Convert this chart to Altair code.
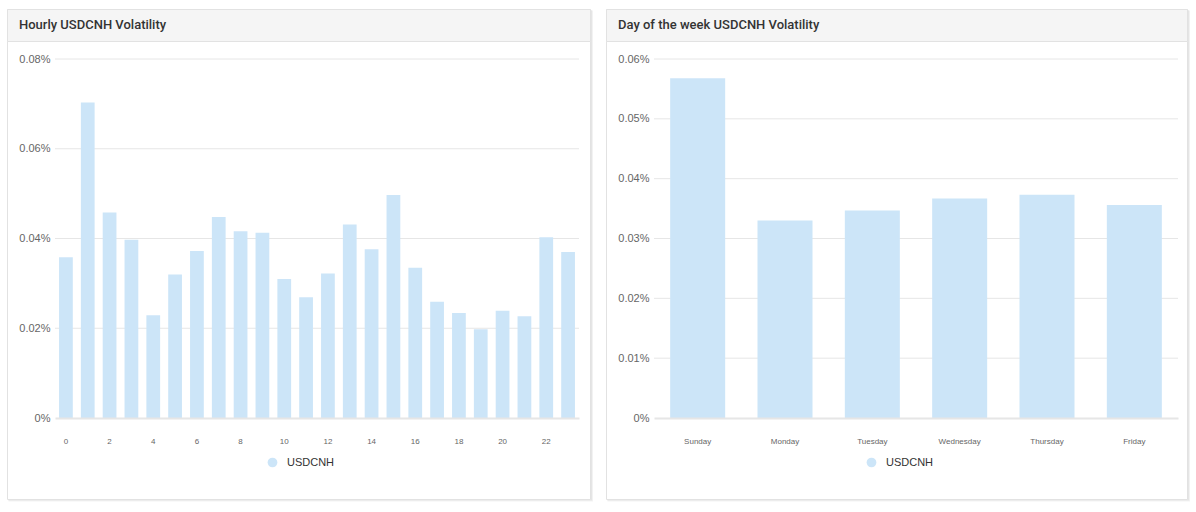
import altair as alt
import pandas as pd

# ---- data ----
hours = list(range(24))
hourly_vol = [0.0358, 0.0703, 0.0458, 0.0397, 0.0229, 0.0320, 0.0372, 0.0448,
              0.0416, 0.0413, 0.0310, 0.0269, 0.0322, 0.0431, 0.0376, 0.0497,
              0.0335, 0.0259, 0.0234, 0.0198, 0.0239, 0.0227, 0.0403, 0.0370]
days = ["Sunday", "Monday", "Tuesday", "Wednesday", "Thursday", "Friday"]
daily_vol = [0.0568, 0.0330, 0.0347, 0.0367, 0.0373, 0.0356]
hour_label_values = [0, 2, 4, 6, 8, 10, 12, 14, 16, 18, 20, 22]
hourly_ticks = [0, 0.02, 0.04, 0.06, 0.08]
daily_ticks = [0, 0.01, 0.02, 0.03, 0.04, 0.05, 0.06]
series_name = "USDCNH"
titles = ["Hourly USDCNH Volatility", "Day of the week USDCNH Volatility"]

BAR = "#cce5f8"
GRID = "#e6e6e6"
W, H = 524, 359
LABEL_FONT = "Liberation Sans"


def panel(df, xfield, xtype, sort, xvalues, ticks, title, card_right):
    one = alt.Data(values=[{"t": title}])
    shadow1 = alt.Chart(one).mark_rect(fill="#000000", opacity=0.05).encode(
        x=alt.value(-46.5), x2=alt.value(card_right + 2.5),
        y=alt.value(-48.5), y2=alt.value(442.5))
    shadow2 = alt.Chart(one).mark_rect(fill="#000000", opacity=0.05).encode(
        x=alt.value(-47), x2=alt.value(card_right + 1.5),
        y=alt.value(-49), y2=alt.value(441.5))
    card = alt.Chart(one).mark_rect(fill="#ffffff", stroke="#e2e2e2", strokeWidth=1).encode(
        x=alt.value(-47.5), x2=alt.value(card_right),
        y=alt.value(-49.5), y2=alt.value(440.5))
    bar_head = alt.Chart(one).mark_rect(fill="#f5f5f5", stroke="#e2e2e2", strokeWidth=1).encode(
        x=alt.value(-47.5), x2=alt.value(card_right),
        y=alt.value(-49.5), y2=alt.value(-17.5))
    head_text = alt.Chart(one).mark_text(
        align="left", baseline="middle", font="Roboto", fontSize=13,
        fontWeight=500, color="#333333").encode(
        x=alt.value(-36), y=alt.value(-34), text="t:N")

    ymax = ticks[-1]
    yscale = alt.Scale(domain=[0, ymax], nice=False, zero=True)
    yaxis = alt.Axis(title=None, values=ticks, grid=False, domain=False,
                     ticks=False, tickSize=0, labelPadding=5,
                     labelFontSize=11, labelFont=LABEL_FONT,
                     labelColor="#666666", zindex=1,
                     labelExpr="datum.value == 0 ? '0%' : format(datum.value, '.2f') + '%'")
    grid = alt.Chart(pd.DataFrame({"vol": ticks[1:]})).mark_rule(
        color=GRID, strokeWidth=1).encode(y=alt.Y("vol:Q", scale=yscale, axis=yaxis))

    xaxis_kw = dict(title=None, labelAngle=0, ticks=False,
                    tickSize=0, labelPadding=19, labelFontSize=8,
                    labelFont=LABEL_FONT, labelColor="#666666",
                    domainColor=GRID, domainWidth=2, grid=False, zindex=1)
    if xvalues is not None:
        xaxis_kw["values"] = xvalues
    xkw = dict(scale=alt.Scale(paddingInner=0.37, paddingOuter=0.185),
               axis=alt.Axis(**xaxis_kw))
    if sort is not None:
        xkw["sort"] = sort

    bars = alt.Chart(df).mark_bar(color=BAR).encode(
        x=alt.X(f"{xfield}:{xtype}", **xkw),
        y=alt.Y("vol:Q", scale=yscale, axis=yaxis),
        color=alt.Color("series:N",
                        scale=alt.Scale(domain=[series_name], range=[BAR]),
                        legend=alt.Legend(title=None, orient="none", legendX=212,
                                          legendY=398, symbolType="circle",
                                          symbolSize=95, symbolStrokeWidth=0,
                                          symbolOpacity=1, labelOffset=9,
                                          labelFontSize=11, labelFont=LABEL_FONT,
                                          labelColor="#333333", padding=0,
                                          zindex=1)),
    )
    return alt.layer(shadow1, shadow2, card, bar_head, head_text, grid, bars).properties(
        width=W, height=H)


df_h = pd.DataFrame({"hour": hours, "vol": hourly_vol, "series": series_name})
df_d = pd.DataFrame({"day": days, "vol": daily_vol, "series": series_name})

left = panel(df_h, "hour", "O", None, hour_label_values, hourly_ticks, titles[0], 535.5)
right = panel(df_d, "day", "N", days, None, daily_ticks, titles[1], 533.5)

chart = alt.hconcat(left, right, spacing=75, bounds="flush").resolve_scale(
    color="independent").resolve_legend(color="independent").properties(
    padding={"left": 7, "top": 9, "right": 6, "bottom": 8},
    background="#ffffff",
).configure_view(stroke=None)

chart.save("out.html", embed_options={"renderer": "svg", "actions": False})
